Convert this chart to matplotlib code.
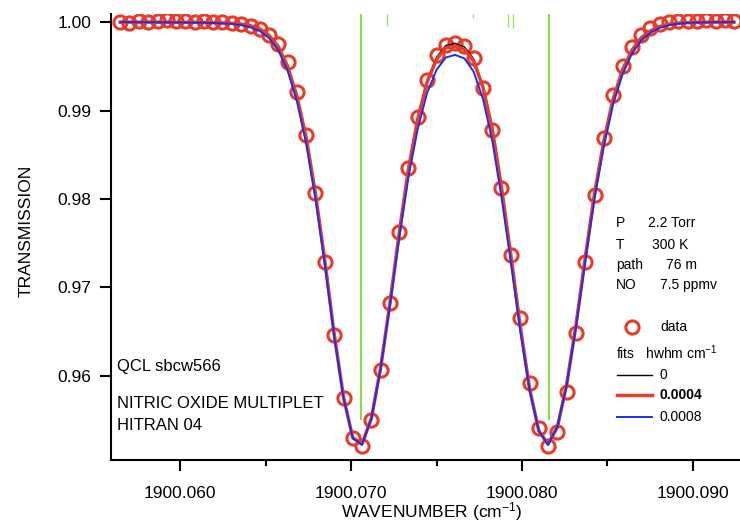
import numpy as np
import matplotlib
matplotlib.use("Agg")
import matplotlib.pyplot as plt

plt.rcParams["font.family"] = ["Liberation Sans", "DejaVu Sans"]
plt.rcParams["mathtext.default"] = "regular"

# measured points (wavenumber, transmission)
wn = [1900.05650, 1900.05704, 1900.05759, 1900.05813, 1900.05868, 1900.05922,
      1900.05976, 1900.06031, 1900.06085, 1900.06140, 1900.06194, 1900.06248,
      1900.06303, 1900.06357, 1900.06412, 1900.06466, 1900.06520, 1900.06575,
      1900.06629, 1900.06684, 1900.06738, 1900.06792, 1900.06847, 1900.06901,
      1900.06956, 1900.07010, 1900.07064, 1900.07119, 1900.07173, 1900.07228,
      1900.07282, 1900.07336, 1900.07391, 1900.07445, 1900.07500, 1900.07554,
      1900.07608, 1900.07663, 1900.07717, 1900.07772, 1900.07826, 1900.07880,
      1900.07935, 1900.07989, 1900.08044, 1900.08098, 1900.08152, 1900.08207,
      1900.08261, 1900.08316, 1900.08370, 1900.08424, 1900.08479, 1900.08533,
      1900.08588, 1900.08642, 1900.08696, 1900.08751, 1900.08805, 1900.08860,
      1900.08914, 1900.08968, 1900.09023, 1900.09077, 1900.09132, 1900.09186,
      1900.09240]

trans = [1.00005, 0.99995, 1.00010, 1.00000, 1.00012, 1.00020, 1.00018, 1.00008,
         1.00002, 1.00010, 1.00000, 0.99998, 0.99990, 0.99975, 0.99955, 0.99925,
         0.99860, 0.99755, 0.99549, 0.99210, 0.98724, 0.98068, 0.97288, 0.96462,
         0.95750, 0.95298, 0.95207, 0.95501, 0.96067, 0.96824, 0.97627, 0.98351,
         0.98927, 0.99346, 0.99628, 0.99741, 0.99764, 0.99730, 0.99594, 0.99255,
         0.98780, 0.98124, 0.97367, 0.96655, 0.95920, 0.95411, 0.95207, 0.95365,
         0.95818, 0.96485, 0.97288, 0.98045, 0.98690, 0.99176, 0.99504, 0.99719,
         0.99855, 0.99935, 0.99980, 1.00000, 1.00012, 1.00015, 1.00010, 1.00020,
         1.00012, 1.00022, 1.00018]

# fits, hwhm 0 / 0.0004 / 0.0008 cm-1
fit_0 = [1.00000, 1.00000, 1.00000, 1.00000, 1.00000, 0.99999, 0.99999, 0.99999,
         0.99998, 0.99997, 0.99996, 0.99993, 0.99989, 0.99980, 0.99964, 0.99930,
         0.99862, 0.99735, 0.99515, 0.99170, 0.98695, 0.98060, 0.97295, 0.96470,
         0.95745, 0.95290, 0.95230, 0.95525, 0.96100, 0.96850, 0.97650, 0.98370,
         0.98940, 0.99345, 0.99605, 0.99735, 0.99760, 0.99720, 0.99585, 0.99280,
         0.98810, 0.98145, 0.97370, 0.96575, 0.95860, 0.95375, 0.95230, 0.95420,
         0.95905, 0.96590, 0.97355, 0.98080, 0.98680, 0.99150, 0.99475, 0.99690,
         0.99830, 0.99910, 0.99955, 0.99978, 0.99990, 0.99995, 0.99998, 0.99999,
         1.00000, 1.00000, 1.00000]

fit_4 = [1.00000, 1.00000, 1.00000, 1.00000, 0.99999, 0.99999, 0.99998, 0.99998,
         0.99997, 0.99996, 0.99994, 0.99991, 0.99986, 0.99976, 0.99958, 0.99922,
         0.99850, 0.99720, 0.99500, 0.99160, 0.98690, 0.98060, 0.97300, 0.96480,
         0.95760, 0.95300, 0.95230, 0.95520, 0.96090, 0.96830, 0.97620, 0.98340,
         0.98910, 0.99320, 0.99580, 0.99710, 0.99730, 0.99690, 0.99560, 0.99260,
         0.98790, 0.98130, 0.97360, 0.96570, 0.95860, 0.95380, 0.95230, 0.95420,
         0.95900, 0.96580, 0.97340, 0.98060, 0.98660, 0.99130, 0.99460, 0.99680,
         0.99820, 0.99900, 0.99950, 0.99975, 0.99988, 0.99994, 0.99997, 0.99999,
         1.00000, 1.00000, 1.00000]

fit_8 = [1.00000, 1.00000, 0.99999, 0.99999, 0.99998, 0.99998, 0.99997, 0.99996,
         0.99995, 0.99993, 0.99990, 0.99985, 0.99980, 0.99966, 0.99942, 0.99900,
         0.99820, 0.99680, 0.99450, 0.99100, 0.98620, 0.98000, 0.97250, 0.96450,
         0.95750, 0.95300, 0.95220, 0.95520, 0.96080, 0.96800, 0.97560, 0.98250,
         0.98800, 0.99200, 0.99460, 0.99600, 0.99630, 0.99590, 0.99440, 0.99130,
         0.98660, 0.98020, 0.97280, 0.96520, 0.95840, 0.95380, 0.95220, 0.95430,
         0.95890, 0.96550, 0.97290, 0.98000, 0.98600, 0.99070, 0.99410, 0.99640,
         0.99790, 0.99880, 0.99935, 0.99965, 0.99982, 0.99991, 0.99996, 0.99998,
         1.00000, 1.00000, 1.00000]

# HITRAN line positions and stick ends
stick_wn = [1900.07057, 1900.08160, 1900.07211, 1900.07713, 1900.07918, 1900.07947]
stick_end = [0.9550, 0.9550, 0.99960, 1.00050, 0.99940, 0.99930]

xlim = (1900.05596, 1900.09275)
ylim = (0.95049, 1.00092)

red = "#e63c2a"
green = "#66dd22"

W, H = 740, 524
fig = plt.figure(figsize=(W / 100, H / 100), dpi=100)
ax = fig.add_axes([111 / W, 64 / H, 629 / W, 446 / H])

ax.vlines(stick_wn[:2], stick_end[:2], ylim[1], color=green, lw=1.2, zorder=1)
ax.vlines(stick_wn[2:], stick_end[2:], ylim[1], color=green, lw=1.0, alpha=0.7,
          zorder=1)
ax.plot(wn, trans, "o", mfc="none", mec=red, mew=2.2, ms=9.5, zorder=2)
ax.plot(wn, fit_0, color="black", lw=1.0, zorder=3)
ax.plot(wn, fit_4, color=red, lw=2.5, zorder=4)
ax.plot(wn, fit_8, color="#1a2ff0", lw=1.4, zorder=5)

ax.set_xlim(*xlim)
ax.set_ylim(*ylim)
ax.set_xticks([1900.060, 1900.070, 1900.080, 1900.090])
ax.set_xticklabels(["1900.060", "1900.070", "1900.080", "1900.090"])
ax.set_xticks([1900.065, 1900.075, 1900.085], minor=True)
ax.set_yticks([0.96, 0.97, 0.98, 0.99, 1.00])
ax.set_yticklabels(["0.96", "0.97", "0.98", "0.99", "1.00"])

for s in ["top", "right"]:
    ax.spines[s].set_visible(False)
for s in ["left", "bottom"]:
    ax.spines[s].set_linewidth(1.5)
ax.tick_params(which="major", direction="out", length=8, width=1.5,
               labelsize=12.5, pad=6)
ax.tick_params(which="minor", direction="out", length=4, width=1.5)
ax.tick_params(axis="x", pad=11)

fig.text(26 / W, 1 - 231 / H, "TRANSMISSION", rotation=90, fontsize=12.5,
         ha="center", va="center")
fig.text(432 / W, 1 - 512 / H, "WAVENUMBER (cm$^{-1}$)", fontsize=12.5,
         ha="center", va="center")

fig.text(117 / W, 1 - 367 / H, "QCL sbcw566", fontsize=12, va="center")
fig.text(117 / W, 1 - 404 / H, "NITRIC OXIDE MULTIPLET", fontsize=12, va="center")
fig.text(117 / W, 1 - 425 / H, "HITRAN 04", fontsize=12, va="center")

cond_rows = [("P", "2.2 Torr", 223, 648), ("T", "300 K", 245, 652),
             ("path", "76 m", 265, 666), ("NO", "7.5 ppmv", 285, 660)]
for lab, val, yy, xv in cond_rows:
    fig.text(616 / W, 1 - yy / H, lab, fontsize=10, va="center")
    fig.text(xv / W, 1 - yy / H, val, fontsize=10, va="center")

# hand-made legend
fig.lines.append(plt.Line2D([632 / W], [1 - 327 / H], marker="o", mfc="none",
                            mec=red, mew=2.2, ms=9.5, transform=fig.transFigure))
fig.text(660 / W, 1 - 327 / H, "data", fontsize=10, va="center")
fig.text(616 / W, 1 - 353 / H, "fits   hwhm cm$^{-1}$", fontsize=10, va="center")
leg_rows = [("black", 1.0, "0", "normal", 375), (red, 2.5, "0.0004", "bold", 395),
            ("#1a2ff0", 1.4, "0.0008", "normal", 417)]
for col, lw, txt, fw, yy in leg_rows:
    fig.lines.append(plt.Line2D([617 / W, 652 / W], [1 - yy / H, 1 - yy / H],
                                color=col, lw=lw, transform=fig.transFigure))
    fig.text(660 / W, 1 - yy / H, txt, fontsize=10, fontweight=fw, va="center")

fig.savefig("out.png", dpi=100)
